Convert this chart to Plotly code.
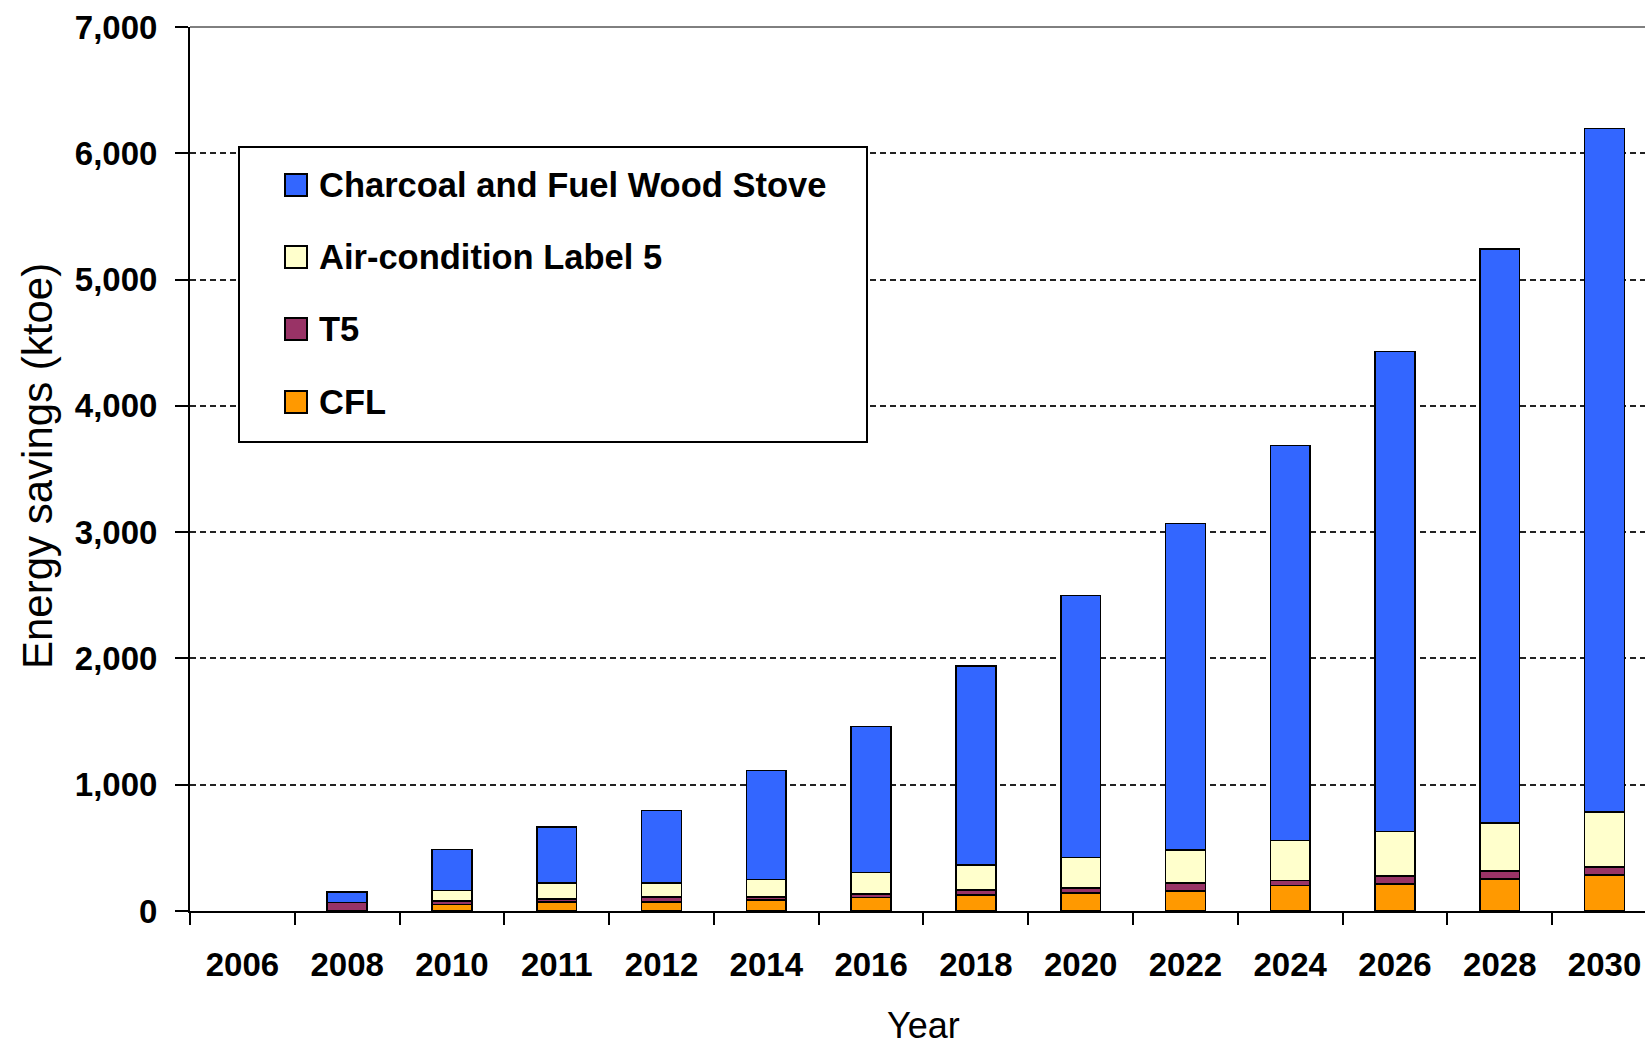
import plotly.graph_objects as go

# ---- data (ktoe); 2006 is the base year with no savings yet ----
years = ["2006", "2008", "2010", "2011", "2012", "2014", "2016",
         "2018", "2020", "2022", "2024", "2026", "2028", "2030"]
cfl      = [None, 0, 53, 72, 72, 85, 106, 125, 143, 159, 202, 215, 252, 287]
t5       = [None, 66, 24, 24, 37, 24, 27, 39, 40, 64, 39, 61, 64, 63]
aircon   = [None, 0, 85, 124, 111, 140, 172, 202, 241, 260, 316, 353, 379, 433]
charcoal = [None, 83, 324, 443, 576, 865, 1155, 1572, 2073, 2585, 3128, 3803, 4548, 5412]

series_names = ["CFL", "T5", "Air-condition Label 5", "Charcoal and Fuel Wood Stove"]
series_values = [cfl, t5, aircon, charcoal]
series_colors = ["#FF9900", "#993366", "#FFFFCC", "#3366FF"]

y_ticks = [0, 1000, 2000, 3000, 4000, 5000, 6000, 7000]

FONT = "Liberation Sans, Arial, sans-serif"

# ---- canvas / plot-area geometry (pixels) ----
W, H = 1645, 1049
ML, MR, MT, MB = 190, 0, 27, 138
PW, PH = W - ML - MR, H - MT - MB


def px(x):
    return (x - ML) / PW


def py(y):
    return 1 - (y - MT) / PH


fig = go.Figure()
for name, vals, col in zip(series_names, series_values, series_colors):
    fig.add_trace(go.Bar(
        x=years, y=vals, name=name, width=0.38,
        marker=dict(color=col, line=dict(color="black", width=1.6)),
        showlegend=False,
    ))

# ---- hand-built legend box (top to bottom: reverse stacking order) ----
shapes = [
    dict(type="rect", xref="paper", yref="paper",
         x0=px(239), x1=px(867), y0=py(442), y1=py(147),
         fillcolor="white", line=dict(color="black", width=2), layer="above"),
    # top frame of the plot area
    dict(type="line", xref="paper", yref="paper", x0=0, x1=1, y0=1, y1=1,
         line=dict(color="black", width=1), layer="above"),
]
annotations = []
row_centers = [185, 257, 329, 402]
for i, (name, col) in enumerate(zip(series_names[::-1], series_colors[::-1])):
    cy = row_centers[i]
    shapes.append(dict(type="rect", xref="paper", yref="paper",
                       x0=px(285), x1=px(307), y0=py(cy + 11), y1=py(cy - 11),
                       fillcolor=col, line=dict(color="black", width=2),
                       layer="above"))
    annotations.append(dict(xref="paper", yref="paper", x=px(317), y=py(cy),
                            xanchor="left", yanchor="middle", showarrow=False,
                            text=name,
                            font=dict(family=FONT, size=34.5, color="black",
                                      weight="bold")))

# axis titles
annotations.append(dict(xref="x", yref="paper", x=6.5, y=py(1047),
                        xanchor="center", yanchor="bottom", showarrow=False,
                        text="Year", borderpad=0,
                        font=dict(family=FONT, size=36, color="black")))
annotations.append(dict(xref="paper", yref="paper", x=px(37), y=py(466),
                        xanchor="center", yanchor="middle", showarrow=False,
                        textangle=-90, text="Energy savings (ktoe)",
                        font=dict(family=FONT, size=42, color="black")))

fig.update_layout(
    width=W, height=H,
    margin=dict(l=ML, r=MR, t=MT, b=MB, pad=0),
    paper_bgcolor="white", plot_bgcolor="white",
    barmode="stack",
    shapes=shapes, annotations=annotations,
    showlegend=False,
    xaxis=dict(
        type="category", range=[-0.5, 13.386],
        tickson="boundaries", ticks="outside", ticklen=12, tickwidth=2,
        tickcolor="black", showline=True, linecolor="black", linewidth=2,
        showgrid=False, ticklabelstandoff=23,
        tickfont=dict(family=FONT, size=33, color="black", weight="bold"),
    ),
    yaxis=dict(
        range=[0, 7000], tickvals=y_ticks, tickformat=",",
        ticks="outside", ticklen=13, tickwidth=2, tickcolor="black",
        showline=True, linecolor="black", linewidth=2,
        showgrid=True, gridcolor="#222222", gridwidth=2, griddash="6px,4px",
        zeroline=False, ticklabelstandoff=11,
        tickfont=dict(family=FONT, size=33, color="black", weight="bold"),
    ),
)

fig.write_html("out.html")
